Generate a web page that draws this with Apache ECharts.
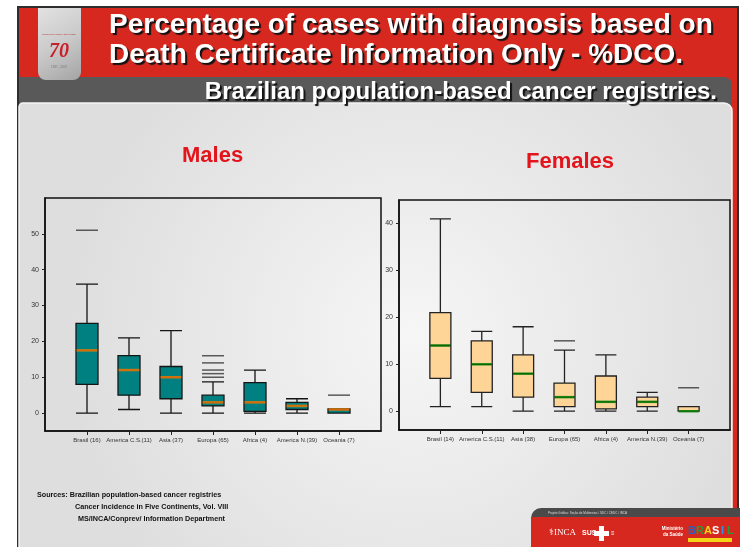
<!DOCTYPE html>
<html>
<head>
<meta charset="utf-8">
<script src="https://cdn.jsdelivr.net/npm/echarts@6/dist/echarts.min.js"></script>
<style>
html, body { margin: 0; padding: 0; background: #fff; }
#main { width: 740px; height: 547px; }
</style>
</head>
<body>
<div id="main"></div>
<script>
// categories
const maleCats = ['Brasil (16)', 'America C.S.(11)', 'Asia (37)', 'Europa (65)', 'Africa (4)', 'America N.(39)', 'Oceania (7)'];
const femaleCats = ['Brasil (14)', 'America C.S.(11)', 'Asia (38)', 'Europa (65)', 'Africa (4)', 'America N.(39)', 'Oceania (7)'];

// [min, Q1, median, Q3, max]  (%DCO)
const maleBoxes = [
  [0, 8, 17.5, 25, 36],
  [1, 5, 12, 16, 21],
  [0, 4, 10, 13, 23],
  [0, 2, 3, 5, 8.7],
  [0, 0.5, 3, 8.5, 12],
  [0, 1, 2, 3, 4],
  [0, 0, 1, 1.2, 1.2]
];
const femaleBoxes = [
  [1, 7, 14, 21, 41],
  [1, 4, 10, 15, 17],
  [0, 3, 8, 12, 18],
  [0, 1, 3, 6, 13],
  [0, 0.5, 2, 7.5, 12],
  [0, 1, 2, 3, 4],
  [0, 0, 0, 1, 1]
];
// outliers: [category position (1..7), value]
const maleOutliers = [[1, 51], [4, 16], [4, 14], [4, 12], [4, 11], [4, 10], [7, 5]];
const femaleOutliers = [[4, 15], [7, 5]];

const maleTicks = [0, 10, 20, 30, 40, 50];
const femaleTicks = [0, 10, 20, 30, 40];
const catPos = [1, 2, 3, 4, 5, 6, 7];

const FONT = 'Liberation Sans';
const chart = echarts.init(document.getElementById('main'));

function xAxisFor(gi, cats) {
  return {
    type: 'value', gridIndex: gi, min: 0, max: 8,
    axisLine: { show: true, onZero: false, lineStyle: { color: '#111', width: 1.5 } },
    axisTick: { show: true, customValues: catPos, length: 4, lineStyle: { color: '#222' } },
    axisLabel: {
      customValues: catPos, fontSize: 6, color: '#333', margin: 6, fontFamily: FONT,
      formatter: v => cats[v - 1] || ''
    },
    splitLine: { show: false }
  };
}
function yAxisFor(gi, min, max, ticks) {
  return {
    type: 'value', gridIndex: gi, min: min, max: max,
    axisLine: { show: true, onZero: false, lineStyle: { color: '#111', width: 1.5 } },
    axisTick: { show: true, customValues: ticks, length: 3, lineStyle: { color: '#222' } },
    axisLabel: { customValues: ticks, fontSize: 7, color: '#333', margin: 6, fontFamily: FONT },
    splitLine: { show: false }
  };
}

chart.setOption({
  animation: false,
  textStyle: { fontFamily: FONT },
  title: [
    {
      text: 'Percentage of cases with diagnosis based on\nDeath Certificate Information Only - %DCO.',
      left: 104, top: 5,
      textStyle: {
        color: '#fff', fontSize: 28, fontWeight: 'bold', lineHeight: 30, fontFamily: FONT,
        textShadowColor: '#111', textShadowOffsetX: 2, textShadowOffsetY: 2, textShadowBlur: 1
      }
    },
    {
      text: 'Brazilian population-based cancer registries.',
      right: 18, top: 75,
      textStyle: {
        color: '#fff', fontSize: 24, fontWeight: 'bold', fontFamily: FONT,
        textShadowColor: '#111', textShadowOffsetX: 2, textShadowOffsetY: 2, textShadowBlur: 1
      }
    },
    { text: 'Males', left: 177, top: 140, textStyle: { color: '#e3141b', fontSize: 22, fontWeight: 'bold', fontFamily: FONT } },
    { text: 'Females', left: 521, top: 146, textStyle: { color: '#e3141b', fontSize: 22, fontWeight: 'bold', fontFamily: FONT } }
  ],
  grid: [
    { left: 45, top: 198, right: 359, bottom: 116, show: true, borderColor: '#111', borderWidth: 1.5 },
    { left: 399, top: 200, right: 10, bottom: 117, show: true, borderColor: '#111', borderWidth: 1.5 }
  ],
  xAxis: [xAxisFor(0, maleCats), xAxisFor(1, femaleCats)],
  yAxis: [yAxisFor(0, -5, 60, maleTicks), yAxisFor(1, -4, 45, femaleTicks)],
  graphic: [
    { type: 'rect', z: -20, shape: { x: 17, y: 6, width: 722, height: 545 }, style: { fill: '#2e2e2e' } },
    { type: 'rect', z: -19, shape: { x: 19, y: 8, width: 718, height: 545 }, style: { fill: '#d6281f' } },
    { type: 'rect', z: -18, shape: { x: 19, y: 77, width: 713, height: 40, r: [0, 8, 0, 0] }, style: { fill: '#595959' } },
    {
      type: 'rect', z: -17, shape: { x: 19, y: 103, width: 713, height: 460, r: [4, 8, 0, 0] },
      style: {
        fill: new echarts.graphic.RadialGradient(0.55, 0.5, 0.75, [
          { offset: 0, color: '#f6f6f6' }, { offset: 1, color: '#dedede' }
        ]),
        stroke: '#f4f4f4', lineWidth: 1.5
      }
    },
    // logo tile
    {
      type: 'rect', z: -16, shape: { x: 38, y: 8, width: 43, height: 72, r: [0, 0, 8, 8] },
      style: {
        fill: new echarts.graphic.LinearGradient(0, 0, 1, 1, [
          { offset: 0, color: '#e2e2e2' }, { offset: 0.5, color: '#cacaca' }, { offset: 1, color: '#a4a4a4' }
        ])
      }
    },
    { type: 'text', z: -15, style: { x: 59, y: 52, text: '70', fill: '#c8202a', font: 'italic bold 20px "Liberation Serif"', align: 'center', verticalAlign: 'middle' } },
    { type: 'text', z: -15, style: { x: 59, y: 33, text: 'INSTITUTO NACIONAL DE CÂNCER', fill: '#b03030', font: '2px Liberation Sans', align: 'center' } },
    { type: 'text', z: -15, style: { x: 59, y: 66, text: '1937 - 2007', fill: '#777', font: '3px Liberation Sans', align: 'center' } },
    // sources
    { type: 'text', style: { x: 37, y: 495, text: 'Sources: Brazilian population-based cancer registries', fill: '#111', font: 'bold 7.2px Liberation Sans', verticalAlign: 'middle' } },
    { type: 'text', style: { x: 75, y: 507, text: 'Cancer Incidence in Five Continents, Vol. VIII', fill: '#111', font: 'bold 7.2px Liberation Sans', verticalAlign: 'middle' } },
    { type: 'text', style: { x: 78, y: 519, text: 'MS/INCA/Conprev/ Information Department', fill: '#111', font: 'bold 7.2px Liberation Sans', verticalAlign: 'middle' } },
    // footer
    { type: 'rect', shape: { x: 531, y: 508, width: 209, height: 14, r: [10, 0, 0, 0] }, style: { fill: '#4a4a4a' } },
    { type: 'rect', shape: { x: 531, y: 517, width: 209, height: 30, r: [3, 0, 0, 0] }, style: { fill: '#d6281f' } },
    { type: 'text', style: { x: 548, y: 513, text: 'Projeto Gráfico: Seção de Multimeios / SDC / CEDC / INCA', fill: '#ddd', font: '3px Liberation Sans', verticalAlign: 'middle' } },
    { type: 'text', style: { x: 549, y: 533, text: '⚕INCA', fill: '#fff', font: '9px Liberation Serif', verticalAlign: 'middle' } },
    { type: 'text', style: { x: 582, y: 533, text: 'SUS', fill: '#fff', font: 'bold 7px Liberation Sans', verticalAlign: 'middle' } },
    { type: 'rect', shape: { x: 599, y: 526, width: 5, height: 15 }, style: { fill: '#fff' } },
    { type: 'rect', shape: { x: 594, y: 531, width: 15, height: 5 }, style: { fill: '#fff' } },
    { type: 'text', style: { x: 611, y: 533, text: '≡', fill: '#fff', font: '6px Liberation Sans', verticalAlign: 'middle' } },
    { type: 'text', style: { x: 683, y: 532, text: 'Ministério\nda Saúde', fill: '#fff', font: 'bold 4.5px Liberation Sans', align: 'right', verticalAlign: 'middle', lineHeight: 6 } },
    { type: 'rect', shape: { x: 688, y: 538, width: 44, height: 4 }, style: { fill: '#f3d417' } },
    { type: 'text', style: { x: 688, y: 531, text: 'B', fill: '#1e64c8', font: 'bold 11px Liberation Sans', verticalAlign: 'middle' } },
    { type: 'text', style: { x: 696, y: 531, text: 'R', fill: '#2a9a3a', font: 'bold 11px Liberation Sans', verticalAlign: 'middle' } },
    { type: 'text', style: { x: 704, y: 531, text: 'A', fill: '#f3d417', font: 'bold 11px Liberation Sans', verticalAlign: 'middle' } },
    { type: 'text', style: { x: 712, y: 531, text: 'S', fill: '#fff', font: 'bold 11px Liberation Sans', verticalAlign: 'middle' } },
    { type: 'text', style: { x: 721, y: 531, text: 'I', fill: '#3b8fe0', font: 'bold 11px Liberation Sans', verticalAlign: 'middle' } },
    { type: 'text', style: { x: 727, y: 531, text: 'L', fill: '#2a9a3a', font: 'bold 11px Liberation Sans', verticalAlign: 'middle' } }
  ],
  series: [
    {
      type: 'boxplot', xAxisIndex: 0, yAxisIndex: 0, layout: 'horizontal',
      data: maleBoxes.map((b, i) => [catPos[i]].concat(b)),
      boxWidth: [22, 22],
      itemStyle: { color: '#008080', borderColor: '#151515', borderWidth: 1.3 },
      emphasis: { disabled: true }, z: 2
    },
    {
      type: 'scatter', xAxisIndex: 0, yAxisIndex: 0, symbol: 'rect', symbolSize: [21, 2.5],
      data: maleBoxes.map((b, i) => [catPos[i], b[2]]),
      itemStyle: { color: '#ff7f00' }, z: 3, silent: true
    },
    {
      type: 'scatter', xAxisIndex: 0, yAxisIndex: 0, symbol: 'rect', symbolSize: [22, 1.5],
      data: maleOutliers,
      itemStyle: { color: '#333' }, z: 3, silent: true
    },
    {
      type: 'boxplot', xAxisIndex: 1, yAxisIndex: 1, layout: 'horizontal',
      data: femaleBoxes.map((b, i) => [catPos[i]].concat(b)),
      boxWidth: [21, 21],
      itemStyle: { color: '#ffd497', borderColor: '#222', borderWidth: 1.3 },
      emphasis: { disabled: true }, z: 2
    },
    {
      type: 'scatter', xAxisIndex: 1, yAxisIndex: 1, symbol: 'rect', symbolSize: [20, 2.5],
      data: femaleBoxes.map((b, i) => [catPos[i], b[2]]),
      itemStyle: { color: '#008000' }, z: 3, silent: true
    },
    {
      type: 'scatter', xAxisIndex: 1, yAxisIndex: 1, symbol: 'rect', symbolSize: [21, 1.5],
      data: femaleOutliers,
      itemStyle: { color: '#333' }, z: 3, silent: true
    }
  ]
});
</script>
</body>
</html>
